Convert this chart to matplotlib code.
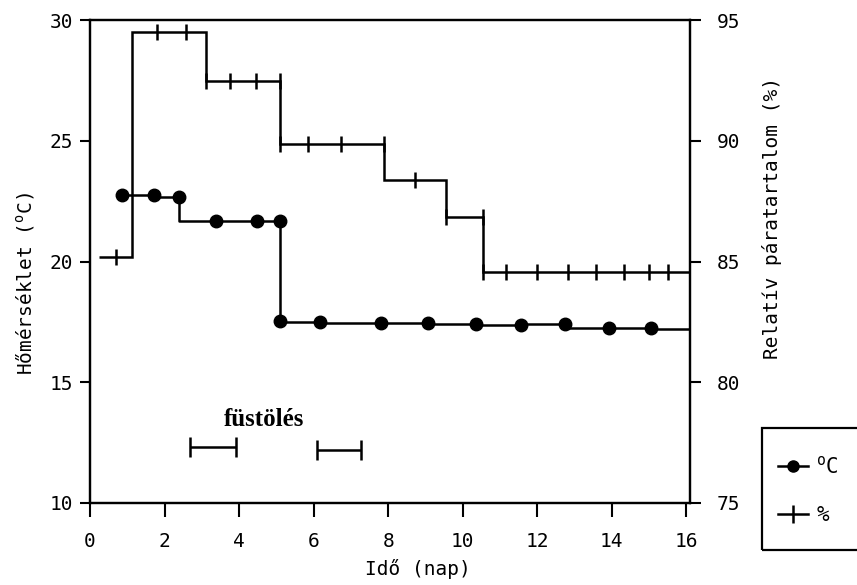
import matplotlib
matplotlib.use('Agg')
import matplotlib.pyplot as plt
from matplotlib.lines import Line2D
from matplotlib.patches import Rectangle

plt.rcParams['font.family'] = 'DejaVu Sans Mono'
plt.rcParams['mathtext.fontset'] = 'custom'
plt.rcParams['mathtext.rm'] = 'DejaVu Sans Mono'

# temperature (left axis, deg C) - measured points
temp_x = [0.87, 1.72, 2.40, 3.37, 4.49, 5.11, 5.11, 6.16, 7.82, 9.08, 10.36, 11.57, 12.75, 13.93, 15.06]
temp_y = [22.75, 22.75, 22.67, 21.68, 21.68, 21.68, 17.54, 17.50, 17.47, 17.44, 17.41, 17.37, 17.40, 17.26, 17.23]
temp_end_x = 16.1
temp_end_y = 17.19

# relative humidity (right axis, %) - step line
rh_edges = [0.23, 1.14, 3.12, 5.11, 7.90, 9.54, 10.55, 16.1]
rh_levels = [85.2, 94.5, 92.47, 89.85, 88.37, 86.84, 84.55]
# humidity measurement marks
rh_mark_x = [0.71, 1.79, 2.57, 3.12, 3.75, 4.46, 5.11, 5.11, 5.84, 6.74, 7.90, 8.73,
             9.54, 10.55, 10.55, 11.17, 12.0, 12.83, 13.58, 14.33, 15.0, 15.51]
rh_mark_y = [85.2, 94.5, 94.5, 92.47, 92.47, 92.47, 92.47, 89.85, 89.85, 89.85, 89.85, 88.37,
             86.84, 86.84, 84.55, 84.55, 84.55, 84.55, 84.55, 84.55, 84.55, 84.55]

# smoking periods
smoke_start = [2.67, 6.08]
smoke_end = [3.93, 7.26]
smoke_y = [12.3, 12.2]

fig = plt.figure(figsize=(8.57, 5.85), dpi=100)
ax = fig.add_axes([90/857, 1 - 503/585, 600/857, 483/585])
ax2 = ax.twinx()

lw = 1.8
ax.plot(temp_x + [temp_end_x], temp_y + [temp_end_y], drawstyle='steps-pre', color='black', lw=lw)
ax.plot(temp_x, temp_y, ls='none', marker='o', ms=9, color='black')

ax2.stairs(rh_levels, rh_edges, baseline=None, color='black', lw=lw)
ax2.plot(rh_mark_x, rh_mark_y, ls='none', marker='|', ms=11, mew=1.8, color='black')

mid = [(a + b) / 2 for a, b in zip(smoke_start, smoke_end)]
half = [(b - a) / 2 for a, b in zip(smoke_start, smoke_end)]
ax.errorbar(mid, smoke_y, xerr=half, fmt='none', ecolor='black', elinewidth=lw,
            capsize=7, capthick=lw)
ax.text(4.67, 13.45, 'füstölés', family='Liberation Serif', fontweight='bold',
        fontsize=18, ha='center', va='center')

ax.set_xlim(0, 16.1)
ax.set_ylim(10, 30)
ax2.set_ylim(75, 95)
ax.set_xticks(range(0, 17, 2))
ax.set_yticks([10, 15, 20, 25, 30])
ax2.set_yticks([75, 80, 85, 90, 95])

for a in (ax, ax2):
    for s in a.spines.values():
        s.set_linewidth(1.6)
        s.set_color('black')
ax.tick_params(axis='y', direction='out', length=7, width=1.5, pad=5, labelsize=14)
ax.tick_params(axis='x', direction='out', length=10, width=1.5, pad=11, labelsize=14)
ax2.tick_params(axis='y', direction='out', length=8, width=1.5, pad=11, labelsize=14)

ax.set_xlabel('Idő (nap)', fontsize=14)
ax.xaxis.set_label_coords(0.547, -0.115)
ax.set_ylabel('Hőmérséklet ($^{\\mathrm{o}}$C)', fontsize=14)
ax.yaxis.set_label_coords(-0.09, 0.455)
ax2.set_ylabel('Relatív páratartalom (%)', fontsize=14)
ax2.yaxis.set_label_coords(1.12, 0.59)

# legend box (runs off the right edge like the original)
fig.patches.append(Rectangle((762/857, 1 - 550/585), 0.14, 122/585, transform=fig.transFigure,
                             fill=False, edgecolor='black', lw=1.6, clip_on=False))
handles = [Line2D([], [], color='black', marker='o', ms=8, lw=lw),
           Line2D([], [], color='black', marker='|', ms=13, mew=1.8, lw=lw)]
fig.legend(handles, ['$^{\\mathrm{o}}$C', '%'], loc='upper left',
           bbox_to_anchor=(759/857, 1 - 437/585), frameon=False, fontsize=15,
           handlelength=1.45, labelspacing=1.3, handletextpad=0.4)

fig.savefig('out.png', dpi=100)
